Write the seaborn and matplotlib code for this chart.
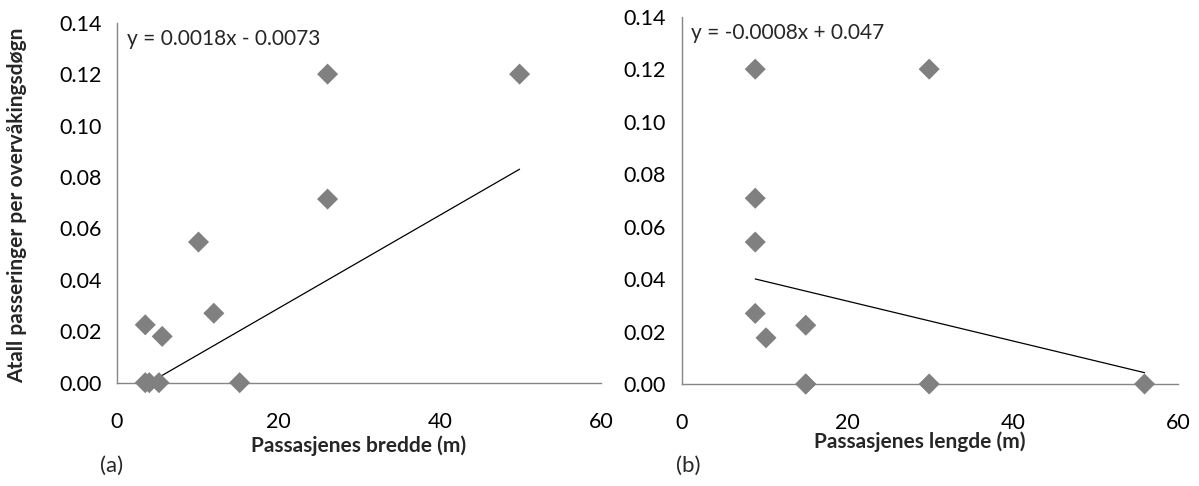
import numpy as np
import pandas as pd
import matplotlib
matplotlib.use("Agg")
import matplotlib.pyplot as plt
from matplotlib.ticker import FormatStrFormatter
import seaborn as sns

# Panel (a): passage width vs passings per monitoring day
width_m = [3.5, 4.0, 5.2, 15.2, 3.5, 5.6, 10.1, 12.0, 26.1, 26.1, 49.9]
width_rate = [0.0, 0.0, 0.0, 0.0, 0.0225, 0.018, 0.0547, 0.027, 0.12, 0.0714, 0.12]
width_fit = [0.00181, -0.0073]
width_eq = "y = 0.0018x - 0.0073"

# Panel (b): passage length vs passings per monitoring day
length_m = [15.0, 15.0, 29.9, 55.9, 15.0, 10.2, 8.9, 8.9, 8.9, 8.9, 29.9]
length_rate = [0.0, 0.0, 0.0, 0.0, 0.0224, 0.0176, 0.0541, 0.0269, 0.12, 0.0708, 0.12]
length_fit = [-0.00076, 0.0468]
length_eq = "y = -0.0008x + 0.047"

x_ticks = [0, 20, 40, 60]
y_ticks = [0.00, 0.02, 0.04, 0.06, 0.08, 0.10, 0.12, 0.14]

sns.set_theme(style="white")
plt.rcParams['font.family'] = ['Lato', 'DejaVu Sans']

fig = plt.figure(figsize=(11.99, 4.86), dpi=100)
ax1 = fig.add_axes([0.0976, 0.2126, 0.4037, 0.7407])
ax2 = fig.add_axes([0.5684, 0.2099, 0.4145, 0.7558])

spine_col = "#868686"
pt_col = "#808080"
FS = 15.5

def draw(ax, xs, ys, fit, eq):
    df = pd.DataFrame({"x": xs, "y": ys})
    sns.scatterplot(data=df, x="x", y="y", ax=ax, marker="D", s=115,
                    color=pt_col, edgecolor="none", zorder=3, clip_on=False)
    xl = np.array([min(xs), max(xs)])
    ldf = pd.DataFrame({"x": xl, "y": fit[0] * xl + fit[1]})
    sns.lineplot(data=ldf, x="x", y="y", ax=ax, color="black", linewidth=0.9, zorder=2)
    ax.set_xlim(0, 60)
    ax.set_ylim(0, 0.14)
    ax.set_xticks(x_ticks)
    ax.set_yticks(y_ticks)
    ax.yaxis.set_major_formatter(FormatStrFormatter("%.2f"))
    for s in ["top", "right"]:
        ax.spines[s].set_visible(False)
    for s in ["left", "bottom"]:
        ax.spines[s].set_color(spine_col)
        ax.spines[s].set_linewidth(1.0)
    ax.tick_params(axis="both", direction="out", length=5, width=1.0, color=spine_col,
                   labelsize=FS, labelcolor="black")
    ax.tick_params(axis="x", pad=16)
    ax.tick_params(axis="y", pad=6)
    ax.set_xlabel("")
    ax.set_ylabel("")
    ax.text(0.02, 0.955, eq, transform=ax.transAxes, fontsize=15, va="center", ha="left")

draw(ax1, width_m, width_rate, width_fit, width_eq)
draw(ax2, length_m, length_rate, length_fit, length_eq)

fig.text(359 / 1199, 1 - 446 / 486, "Passasjenes bredde (m)", ha="center", va="center",
         fontsize=15, fontweight="bold")
fig.text(920 / 1199, 1 - 442 / 486, "Passasjenes lengde (m)", ha="center", va="center",
         fontsize=15, fontweight="bold")
fig.text(112 / 1199, 1 - 466 / 486, "(a)", ha="center", va="center", fontsize=16)
fig.text(688 / 1199, 1 - 466 / 486, "(b)", ha="center", va="center", fontsize=16)
fig.text(17 / 1199, 1 - 205 / 486, "Atall passeringer per overvåkingsdøgn", rotation=90,
         ha="center", va="center", fontsize=15, fontweight="bold")

fig.savefig("out.png", dpi=100, facecolor="white")
